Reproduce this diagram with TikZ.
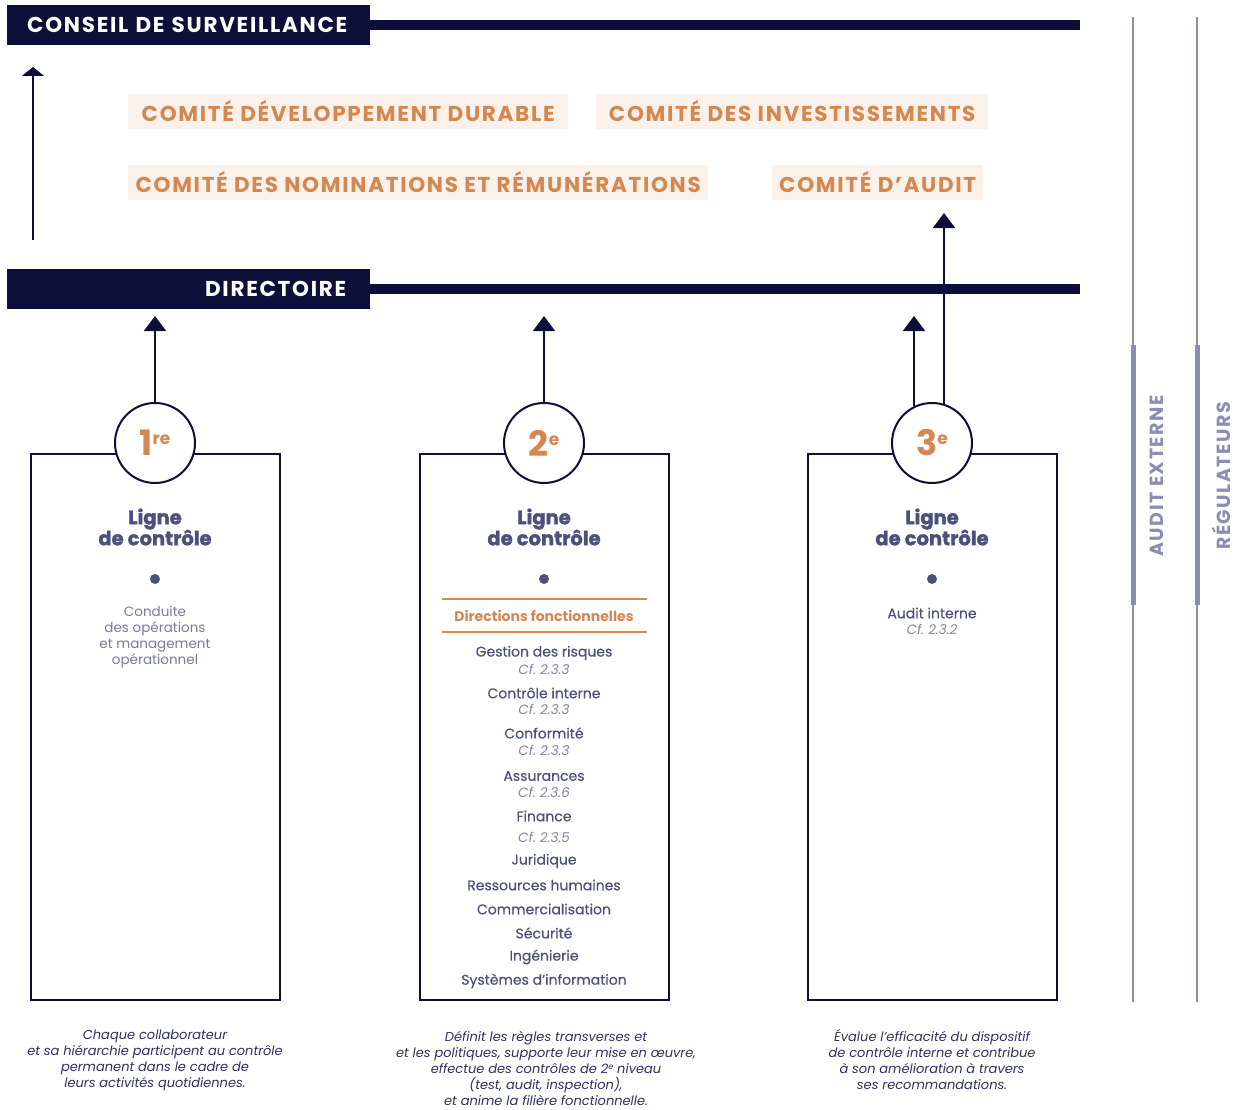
\documentclass[tikz,border=0pt]{standalone}
\usepackage{fontspec}
\setmainfont{Poppins}
\newfontfamily\capsfont[LetterSpace=8]{Poppins}
\newfontfamily\lourdfont[BoldFeatures={FakeBold=1.6}]{Poppins}
\newfontfamily\moyenfont[FakeBold=0.5]{Poppins}
\usetikzlibrary{arrows.meta,positioning}

\definecolor{nuit}{HTML}{0E0F38}
\definecolor{cuivre}{HTML}{D4874E}
\definecolor{sable}{HTML}{FAF1EB}
\definecolor{ardoise}{HTML}{4D507D}
\definecolor{brume}{HTML}{8385A8}
\definecolor{encre}{HTML}{2E3060}
\definecolor{lavande}{HTML}{8C8DB3}

\tikzset{
  barre/.style={fill=nuit, text=white, font=\capsfont\bfseries\fontsize{21.5}{21.5}\selectfont,
    minimum height=40pt, text width=323pt, inner xsep=20pt, inner ysep=0pt, anchor=west},
  comite/.style={fill=sable, text=cuivre, font=\capsfont\bfseries\fontsize{21.5}{21.5}\selectfont,
    minimum height=35pt, inner sep=0pt, anchor=west},
  rang/.style={circle, draw=nuit, line width=2pt, fill=white, minimum size=80pt,
    inner sep=0pt, text=cuivre, font=\bfseries},
  cadre/.style={draw=nuit, line width=1.4pt},
  titre/.style={text=ardoise, font=\lourdfont\bfseries\fontsize{19.5}{21}\selectfont, align=center},
  item/.style={text=ardoise, font=\moyenfont\fontsize{14}{16}\selectfont},
  renvoi/.style={text=brume, font=\itshape\fontsize{13.5}{16}\selectfont},
  legende/.style={text=encre, font=\itshape\fontsize{13}{16}\selectfont, align=center},
  fleche/.style={draw=nuit, line width=2pt, -{Triangle[width=22pt,length=15pt]}},
  acteur/.style={text=lavande, font=\capsfont\bfseries\fontsize{19}{19}\selectfont, rotate=90}
}
\newcommand{\rangnum}[2]{{\fontsize{35}{35}\selectfont #1\raisebox{11pt}{\fontsize{17}{17}\selectfont #2}}}

\begin{document}
\begin{tikzpicture}[x=1pt, y=-1pt]
    \useasboundingbox (0,0) rectangle (1236,1110);

    % Conseil and directoire
    \node[barre, align=left] (conseil) at (7,25) {CONSEIL DE SURVEILLANCE};
    \draw[nuit, line width=10pt] (conseil.east) -- (1080,25);
    \node[barre, align=right, text width=315pt, inner xsep=24pt] (directoire) at (7,289) {DIRECTOIRE};
    \draw[nuit, line width=10pt] (directoire.east) -- (1080,289);
    \coordinate (bas) at (33,240);
    \coordinate (haut) at (33,67);
    \draw[nuit, line width=1.5pt, -{Triangle[width=22pt,length=9pt]}] (bas) -- (haut);

    % Comites
    \node[comite, minimum width=440pt] (durable) at (128,111.5) {COMITÉ DÉVELOPPEMENT DURABLE};
    \node[comite, minimum width=392pt] (invest) at (596,111.5) {COMITÉ DES INVESTISSEMENTS};
    \node[comite, minimum width=580pt] (nomin) at (128,182.5) {COMITÉ DES NOMINATIONS ET RÉMUNÉRATIONS};
    \node[comite, minimum width=211pt] (audit) at (772,182.5) {COMITÉ D’AUDIT};

    % Lignes de controle
    \foreach \n/\x in {1/155,2/544,3/932} {
        \draw[cadre] (\x-124,454) rectangle (\x+125,1000);
        \node[titre] (ligne\n) at (\x,527) {Ligne\\de contrôle};
        \fill[ardoise] (\x,579) circle (5pt);
    }
    \node[rang] (r1) at (155,443) {\rangnum{1}{re}};
    \node[rang] (r2) at (544,443) {\rangnum{2}{e}};
    \node[rang] (r3) at (932,443) {\rangnum{3}{e}};

    % Arrows to the top
    \coordinate (d1) at (155,316);
    \coordinate (d2) at (544,316);
    \coordinate (d3) at (914,316);
    \coordinate (ca) at (944,213);
    \draw[fleche] (r1) -- (d1);
    \draw[fleche] (r2) -- (d2);
    \draw[fleche] (r3.116) -- (r3.116 |- d3);
    \draw[fleche] (r3.73) -- (r3.73 |- ca);

    % 1re ligne
    \node[text=brume!80!ardoise, align=center, font=\fontsize{13.5}{16}\selectfont] (conduite) at (155,637)
        {Conduite\\des opérations\\et management\\opérationnel};

    % 2e ligne
    \draw[cuivre, line width=2pt] (442,599) -- (647,599);
    \draw[cuivre, line width=2pt] (442,632) -- (647,632);
    \node[text=cuivre, font=\bfseries\fontsize{14}{16}\selectfont] (directions) at (544,616) {Directions fonctionnelles};
    \foreach \y/\t [count=\i] in {653/Gestion des risques, 693/Contrôle interne, 733/Conformité,
        776/Assurances, 816/Finance, 861/Juridique, 885/Ressources humaines,
        909/Commercialisation, 933/Sécurité, 957/Ingénierie, 981/Systèmes d’information}
        \node[item] (dir\i) at (544,\y) {\t};
    \foreach \y/\t [count=\i] in {669/2.3.3, 709/2.3.3, 750/2.3.3, 792/2.3.6, 837/2.3.5}
        \node[renvoi] (cf\i) at (544,\y) {Cf.\ \t};

    % 3e ligne
    \node[item] (interne) at (932,613) {Audit interne};
    \node[renvoi] (cfaudit) at (932,629) {Cf.\ 2.3.2};

    % Legendes
    \node[legende] (leg1) at (155,1060) {Chaque collaborateur\\et sa hiérarchie participent au contrôle\\permanent dans le cadre de\\leurs activités quotidiennes.};
    \node[legende] (leg2) at (546,1068) {Définit les règles transverses et\\et les politiques, supporte leur mise en œuvre,\\effectue des contrôles de 2\raisebox{4pt}{\fontsize{8}{8}\selectfont e} niveau\\(test, audit, inspection),\\et anime la filière fonctionnelle.};
    \node[legende] (leg3) at (932,1060) {Évalue l’efficacité du dispositif\\de contrôle interne et contribue\\à son amélioration à travers\\ses recommandations.};

    % Audit externe and regulateurs
    \foreach \x/\t in {1133/AUDIT EXTERNE, 1197/RÉGULATEURS} {
        \draw[lavande, line width=2pt] (\x,17) -- (\x,1002);
        \draw[lavande, line width=5pt] (\x,345) -- (\x,605);
        \node[acteur] at (\x+24,476) {\t};
    }
\end{tikzpicture}
\end{document}
